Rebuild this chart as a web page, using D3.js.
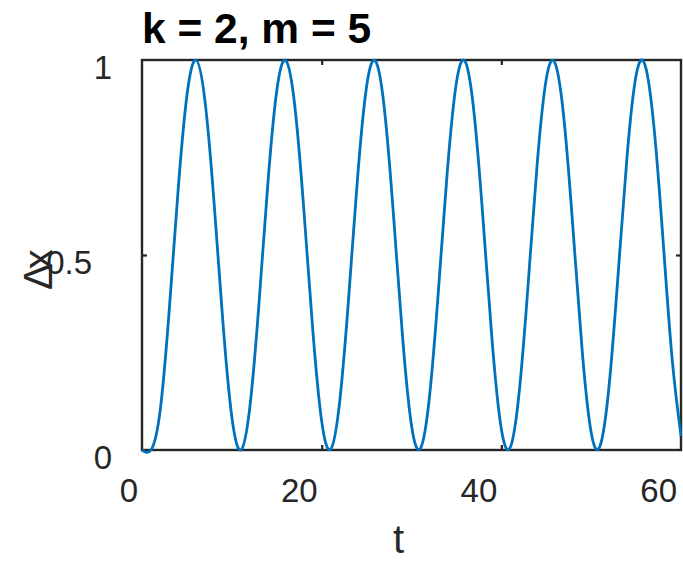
<!DOCTYPE html>
<html>
<head>
<meta charset="utf-8">
<script src="https://cdn.jsdelivr.net/npm/d3@7/dist/d3.min.js"></script>
<style>
  html, body { margin: 0; padding: 0; background: #ffffff; }
  svg { display: block; font-family: "Liberation Sans", Arial, Helvetica, sans-serif; }
</style>
</head>
<body>
<svg id="chart" width="683" height="563"></svg>
<script>
// Displacement of the mass (k = 2, m = 5), sampled once per time unit.
const tValues = [
  0, 1, 2, 3, 4, 5, 6, 7, 8, 9,
  10, 11, 12, 13, 14, 15, 16, 17, 18, 19,
  20, 21, 22, 23, 24, 25, 26, 27, 28, 29,
  30, 31, 32, 33, 34, 35, 36, 37, 38, 39,
  40, 41, 42, 43, 44, 45, 46, 47, 48, 49,
  50, 51, 52, 53, 54, 55, 56, 57, 58, 59,
  60
];
const dxValues = [
  0.000, 0.000, 0.097, 0.349, 0.660, 0.909, 1.000, 0.897, 0.641, 0.330,
  0.085, 0.000, 0.109, 0.369, 0.680, 0.921, 0.999, 0.884, 0.621, 0.311,
  0.074, 0.002, 0.123, 0.389, 0.699, 0.932, 0.997, 0.871, 0.601, 0.292,
  0.063, 0.004, 0.136, 0.410, 0.718, 0.942, 0.995, 0.856, 0.580, 0.273,
  0.054, 0.007, 0.151, 0.430, 0.736, 0.951, 0.991, 0.842, 0.560, 0.255,
  0.045, 0.011, 0.166, 0.451, 0.754, 0.960, 0.987, 0.826, 0.539, 0.237,
  0.036
];
const xTicks = [0, 20, 40, 60];
const yTicks = [0, 0.5, 1];
const titleText = "k = 2, m = 5";
const xLabelText = "t";
const yLabelParts = ["\u0394", "x"];

const ink = "#262626";
const lineColor = "#0072BD";

const svg = d3.select("#chart");
const plot = { left: 142, right: 681, top: 60, bottom: 450 };

const x = d3.scaleLinear().domain([0, 60]).range([plot.left, plot.right]);
const y = d3.scaleLinear().domain([0, 1]).range([plot.bottom, plot.top]);

// Inward tick marks on all four sides
const tickLen = 5;
const inner = (v, list) => v !== list[0] && v !== list[list.length - 1];
const xInner = xTicks.filter(v => inner(v, xTicks));
const yInner = yTicks.filter(v => inner(v, yTicks));

const tickStyle = g => {
  g.select(".domain").remove();
  g.selectAll(".tick line").attr("stroke", ink).attr("stroke-width", 2.2);
  g.selectAll(".tick text").remove();
};

svg.append("g").attr("transform", `translate(0,${plot.bottom})`)
  .call(d3.axisBottom(x).tickValues(xInner).tickSize(-tickLen)).call(tickStyle);
svg.append("g").attr("transform", `translate(0,${plot.top})`)
  .call(d3.axisTop(x).tickValues(xInner).tickSize(-tickLen)).call(tickStyle);
svg.append("g").attr("transform", `translate(${plot.left},0)`)
  .call(d3.axisLeft(y).tickValues(yInner).tickSize(-tickLen)).call(tickStyle);
svg.append("g").attr("transform", `translate(${plot.right},0)`)
  .call(d3.axisRight(y).tickValues(yInner).tickSize(-tickLen)).call(tickStyle);

// Axes box
svg.append("rect")
  .attr("x", plot.left).attr("y", plot.top)
  .attr("width", plot.right - plot.left).attr("height", plot.bottom - plot.top)
  .attr("fill", "none").attr("stroke", ink).attr("stroke-width", 2.4);

// Tick labels
svg.append("g").selectAll("text").data(xTicks).join("text")
  .attr("x", d => x(d) - 4)
  .attr("y", 502)
  .attr("text-anchor", "end")
  .attr("font-size", 33)
  .attr("fill", ink)
  .text(d => d);

svg.append("g").selectAll("text").data(yTicks).join("text")
  .attr("x", d => d === 0.5 ? 92 : 112)
  .attr("y", d => y(d) + 19)
  .attr("text-anchor", "end")
  .attr("font-size", 33)
  .attr("fill", ink)
  .text(d => d);

// Title and axis labels
svg.append("text")
  .attr("x", plot.left).attr("y", 43)
  .attr("font-size", 42.5).attr("font-weight", "bold")
  .attr("fill", "#000000")
  .text(titleText);

svg.append("text")
  .attr("x", (plot.left + plot.right) / 2 - 13).attr("y", 553)
  .attr("text-anchor", "middle")
  .attr("font-size", 40)
  .attr("fill", ink)
  .text(xLabelText);

const yLab = svg.append("text")
  .attr("transform", "translate(52,290) rotate(-90)")
  .attr("text-anchor", "start")
  .attr("font-size", 40)
  .attr("fill", ink);
yLab.append("tspan").text(yLabelParts[0]);
yLab.append("tspan").attr("dx", -6).text(yLabelParts[1]);

// Response curve
const line = d3.line()
  .x((d, i) => x(tValues[i]))
  .y(d => y(d))
  .curve(d3.curveNatural);

svg.append("path")
  .datum(dxValues)
  .attr("d", line)
  .attr("fill", "none")
  .attr("stroke", lineColor)
  .attr("stroke-width", 2.8)
  .attr("stroke-linejoin", "round");
</script>
</body>
</html>
